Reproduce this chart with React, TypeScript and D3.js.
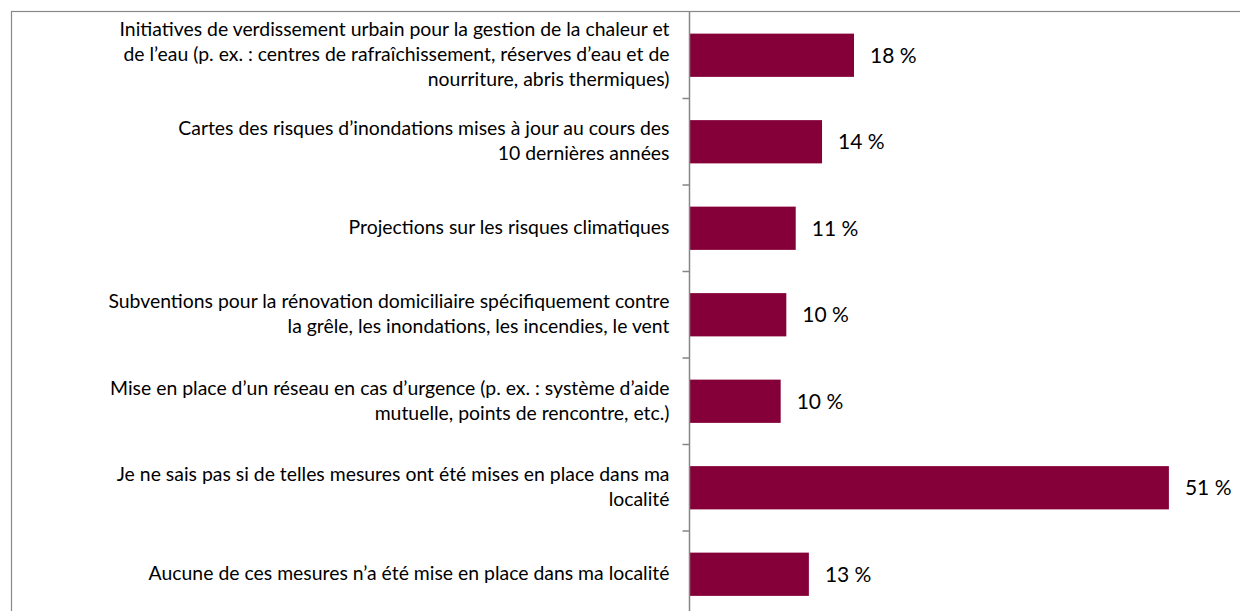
import React from 'react';
import { scaleBand, scaleLinear } from 'd3';

// categories, each split in the lines shown on the chart
const categories: string[][] = [
  [
    'Initiatives de verdissement urbain pour la gestion de la chaleur et',
    'de l’eau (p. ex. : centres de rafraîchissement, réserves d’eau et de',
    'nourriture, abris thermiques)',
  ],
  ['Cartes des risques d’inondations mises à jour au cours des', '10 dernières années'],
  ['Projections sur les risques climatiques'],
  ['Subventions pour la rénovation domiciliaire spécifiquement contre', 'la grêle, les inondations, les incendies, le vent'],
  ['Mise en place d’un réseau en cas d’urgence (p. ex. : système d’aide', 'mutuelle, points de rencontre, etc.)'],
  ['Je ne sais pas si de telles mesures ont été mises en place dans ma', 'localité'],
  ['Aucune de ces mesures n’a été mise en place dans ma localité'],
];

const values: number[] = [17.5, 14.1, 11.3, 10.3, 9.7, 51, 12.7];

const width = 1240;
const height = 611;
const axisX = 689.5;
const plotTop = 12;
const step = 86.5;
const fontFamily = 'Lato, Carlito, Calibri, sans-serif';
const fontSize = 19.4;
const valueSize = 21;
const lineGap = 25;

const App = () => {
  const keys = categories.map((c, i) => String(i));
  const y = scaleBand<string>()
    .domain(keys)
    .range([plotTop, plotTop + step * keys.length])
    .paddingInner(0.5)
    .paddingOuter(0.25);
  const x = scaleLinear().domain([0, 60]).range([axisX, axisX + 9.4 * 60]);

  const boundaries = keys.slice(1).map(k => (y(k) as number) - y.step() * 0.25);

  return (
    <svg
      width={width}
      height={height}
      style={{ position: 'absolute', left: 0, top: 0, background: '#fff' }}
      fontFamily={fontFamily}
    >
      <rect x={11.5} y={11.5} width={width} height={height} fill="#fff" stroke="#898989" strokeWidth={1.2} />

      {keys.map((k, i) => {
        const cy = (y(k) as number) + y.bandwidth() / 2;
        const lines = categories[i];
        const first = cy + 6 - ((lines.length - 1) * lineGap) / 2;
        return (
          <g key={k}>
            <rect
              x={x(0)}
              y={y(k)}
              width={x(values[i]) - x(0)}
              height={y.bandwidth()}
              fill="#850038"
            />
            <text x={x(values[i]) + 16} y={cy + 7.5} fontSize={valueSize} fill="#000">
              {`${Math.round(values[i])} %`}
            </text>
            <text textAnchor="end" fontSize={fontSize} fill="#000">
              {lines.map((l, j) => (
                <tspan key={j} x={axisX - 20} y={first + j * lineGap}>
                  {l}
                </tspan>
              ))}
            </text>
          </g>
        );
      })}

      <line x1={axisX} x2={axisX} y1={plotTop} y2={height} stroke="#868686" strokeWidth={1.5} />
      {boundaries.map((b, i) => (
        <line key={i} x1={axisX - 7} x2={axisX} y1={b} y2={b} stroke="#868686" strokeWidth={1.5} />
      ))}
    </svg>
  );
};

export default App;
